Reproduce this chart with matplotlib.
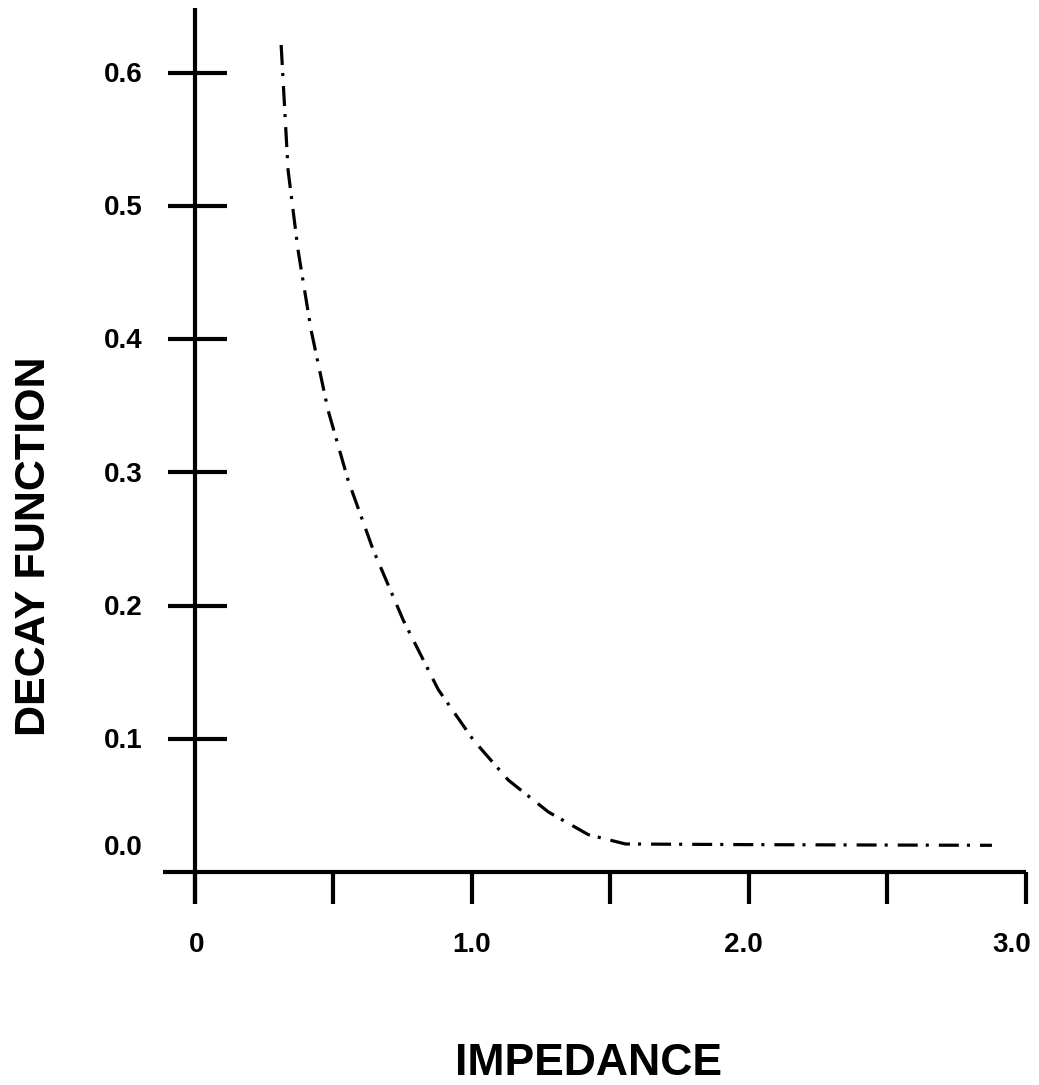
import matplotlib
matplotlib.use('Agg')
import matplotlib.pyplot as plt

plt.rcParams['font.family'] = ['Liberation Sans', 'DejaVu Sans']
plt.rcParams['font.weight'] = 'bold'
plt.rcParams['lines.scale_dashes'] = False

# Curve
impedance = [0.311, 0.336, 0.372, 0.419, 0.48, 0.553, 0.643, 0.752, 0.878,
             1.005, 1.131, 1.276, 1.42, 1.554, 2.0, 2.5, 2.877]
decay = [0.621, 0.527, 0.467, 0.407, 0.347, 0.294, 0.242, 0.189, 0.137,
         0.099, 0.069, 0.045, 0.028, 0.021, 0.0205, 0.0202, 0.020]

x_ticks = [0, 0.5, 1.0, 1.5, 2.0, 2.5, 3.0]
x_labels = ['0', '1.0', '2.0', '3.0']
y_ticks = [0.1, 0.2, 0.3, 0.4, 0.5, 0.6]
y_labels = ['0.1', '0.2', '0.3', '0.4', '0.5', '0.6']

fig = plt.figure(figsize=(10.39, 10.85), dpi=100)
ax = fig.add_axes([0, 0, 1, 1])
ax.set_xlim(-0.704, 3.047)
ax.set_ylim(-0.16, 0.6548)
ax.axis('off')

lw = 3.0
# axes lines
ax.plot([0, 0], [-0.024, 0.649], color='black', lw=lw, solid_capstyle='butt')
ax.plot([-0.1155, 3.0], [0, 0], color='black', lw=lw, solid_capstyle='butt')

# y ticks (crossing)
for v in y_ticks:
    ax.plot([-0.0975, 0.1155], [v, v], color='black', lw=lw, solid_capstyle='butt')
# x ticks (downward)
for v in x_ticks:
    ax.plot([v, v], [0, -0.024], color='black', lw=lw, solid_capstyle='butt')

# tick labels
for v, s in zip(y_ticks, y_labels):
    ax.text(-0.188, v - 0.0068, s, ha='right', va='baseline', fontsize=20, fontweight='bold')
ax.text(-0.188, 0.0128, '0.0', ha='right', va='baseline', fontsize=20, fontweight='bold')
for xp, s in zip([0.005, 1.0, 1.98, 2.95], x_labels):
    ax.text(xp, -0.0601, s, ha='center', va='baseline', fontsize=20, fontweight='bold')

# axis titles
ax.text(1.42, -0.1524, 'IMPEDANCE', ha='center', va='baseline', fontsize=32, fontweight='bold')
ax.text(-0.5415, 0.2448, 'DECAY FUNCTION', rotation=90, rotation_mode='anchor',
        ha='center', va='baseline', fontsize=31, fontweight='bold')

# decay curve
ax.plot(impedance, decay, color='black', lw=2.3,
        linestyle=(0, (14.4, 5.8, 2.2, 7.2)), dash_capstyle='butt')

fig.savefig('out.png', dpi=100)
